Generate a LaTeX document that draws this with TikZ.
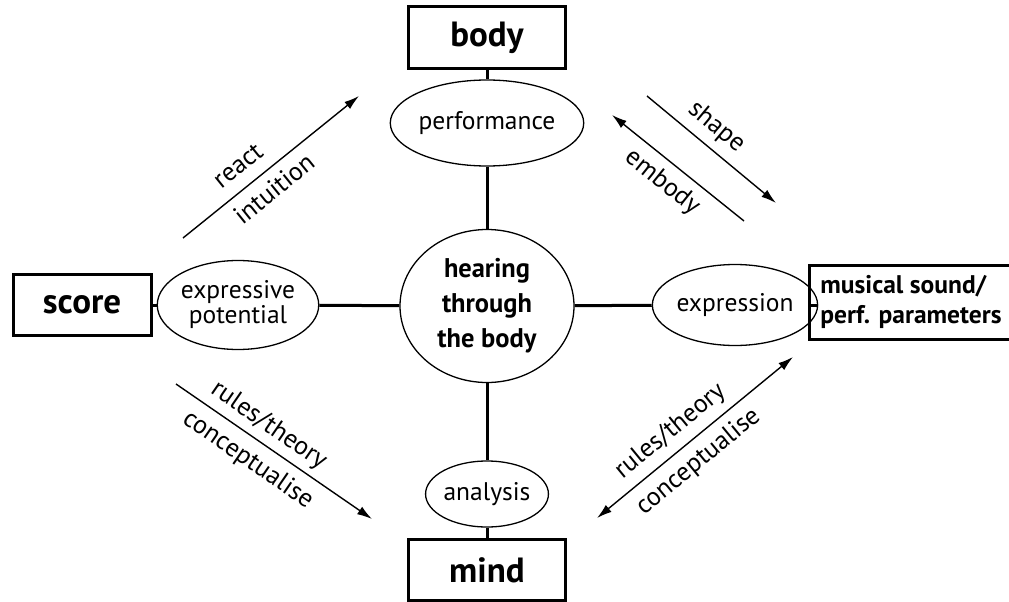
\documentclass[tikz,border=0pt]{standalone}
\usepackage{fontspec}
\setmainfont{PT Sans}
\newfontfamily\narrowbf[FakeStretch=0.98]{PT Sans Bold}
\usetikzlibrary{arrows.meta, shapes.geometric, positioning}

\tikzset{
    box/.style={draw, line width=3pt, inner sep=0pt, font=\bfseries\fontsize{35}{38}\selectfont},
    oval/.style={draw, ellipse, line width=1.3pt, inner sep=0pt, font=\fontsize{25.5}{28}\selectfont, align=center},
    link/.style={line width=3pt},
    flow/.style={line width=1.4pt, -{Latex[length=15pt, width=9pt]}},
    lbl/.style={sloped, inner sep=1pt, text height=19pt, text depth=6pt, font=\fontsize{26}{28}\selectfont},
}

\begin{document}
\begin{tikzpicture}[x=1pt, y=-1pt]
    \useasboundingbox (0, 0) rectangle (1009, 602);

    % boxes
    \node[box, minimum width=157, minimum height=62] (body) at (487, 38) {body};
    \node[box, minimum width=138, minimum height=61] (score) at (82, 305) {score};
    \node[box, minimum width=157, minimum height=61] (mind) at (487, 570) {mind};
    \node[box, minimum width=203, minimum height=74, align=left, font=\bfseries\fontsize{25.5}{30}\selectfont] (music) at (911, 302) {musical sound/\\perf. parameters};

    % ellipses
    \node[oval, minimum width=169, minimum height=86] (perf) at (487, 123) {performance};
    \node[oval, minimum width=151, minimum height=89] (expot) at (238, 305) {expressive\\[-3pt]potential};
    \node[oval, minimum width=134, minimum height=81] (expr) at (735, 305) {expression};
    \node[oval, minimum width=118, minimum height=66] (ana) at (487, 494) {analysis};
    \node[oval, minimum width=174, minimum height=153, font=\narrowbf\fontsize{27}{35}\selectfont] (hear) at (487, 306) {hearing\\through\\the body};

    % links
    \draw[link] (body) -- (perf);
    \draw[link] (perf) -- (hear);
    \draw[link] (hear) -- (ana);
    \draw[link] (ana) -- (mind);
    \draw[link] (score) -- (expot);
    \draw[link] (expot) -- (hear);
    \draw[link] (hear) -- (expr);
    \draw[link] (expr.east) -- (expr.east -| music.west);

    % free ends of the arrows
    \coordinate (r1) at (183, 238);
    \coordinate (r2) at (359, 96);
    \coordinate (s1) at (647, 96);
    \coordinate (s2) at (776, 203);
    \coordinate (e1) at (744, 221);
    \coordinate (e2) at (612, 115);
    \coordinate (l1) at (176, 384);
    \coordinate (l2) at (372, 519);
    \coordinate (m1) at (597, 518);
    \coordinate (m2) at (793, 357);

    \draw[flow] (r1) -- node[lbl, above=6pt, pos=0.39] {react} node[lbl, below=7pt, pos=0.45] {intuition} (r2);
    \draw[flow] (s1) -- node[lbl, above=6pt, pos=0.44] {shape} (s2);
    \draw[flow] (e1) -- node[lbl, below=7pt, pos=0.52] {embody} (e2);
    \draw[flow] (l1) -- node[lbl, above=4pt, pos=0.42] {rules/theory} node[lbl, below=8pt, pos=0.43] {conceptualise} (l2);
    \draw[line width=1.4pt, {Latex[length=15pt, width=9pt]}-{Latex[length=15pt, width=9pt]}] (m1) -- node[lbl, above=6pt, pos=0.44] {rules/theory} node[lbl, below=7pt, pos=0.45] {conceptualise} (m2);
\end{tikzpicture}
\end{document}
